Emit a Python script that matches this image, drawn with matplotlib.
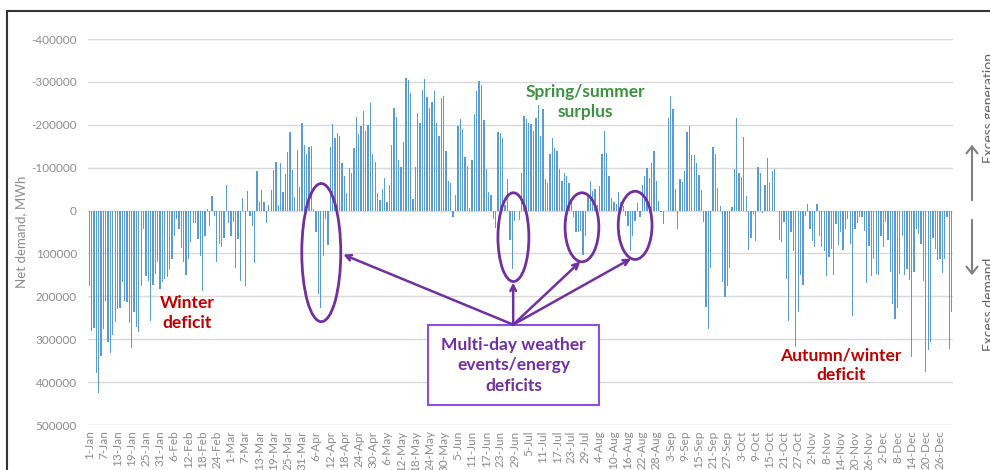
import datetime as dt
import matplotlib
matplotlib.use("Agg")
import matplotlib.pyplot as plt
from matplotlib.patches import Ellipse, Rectangle, FancyArrowPatch

plt.rcParams['font.family'] = ['Lato', 'DejaVu Sans']

# daily net demand, thousands of MWh (positive = excess demand), leap year
jan_feb = [177, 280, 274, 378, 425, 338, 276, 210, 307, 332,
           291, 259, 229, 228, 167, 210, 214, 262, 321, 237,
           272, 284, 175, 43, 152, 164, 257, 174, 148, 121,
           183, 167, 160, 156, 136, 112, 59, 20, 43, 88,
           121, 150, 113, 74, 28, 28, 67, 105, 187, 59,
           -3, 36, -34, 12, 119, 78, 86, 63, -59, 28]
mar_may = [59, 26, 133, 67, 165, -30, 177, -46, 12, 36,
           122, -93, -19, -47, -21, 28, -13, -47, -95, -113,
           -12, -112, -43, -86, -136, -183, -94, -32, -141, -55,
           -205, -152, -131, -149, -150, -3, 51, 195, 228, 105,
           20, 81, -149, -201, -170, -181, -175, -110, -81, -40,
           -99, -87, -147, -219, -178, -198, -233, -185, -199, -250,
           -131, -113]
may_jul = [-42, -24, -50, -77, -19, -59, -154, -240, -219, -119,
           -102, -160, -309, -305, -273, -28, -102, -228, -203, -282,
           -307, -264, -238, -253, -279, -203, -174, -263, -266, -140,
           -69, -64, 14, -36, -197, -214, -189, -125, -104, -7,
           -118, -226, -278, -302, -293, -211, -96, -43, -36, 20,
           40, -183, -181, -170, -12, -74, 68, 136, 24, 1,
           22, -88]
jul_sep = [-220, -214, -203, -201, -185, -216, -247, -175, -237, -73,
           -65, -133, -170, -147, -139, -96, -69, -88, -81, -64,
           -19, 16, 50, 49, 47, 104, 59, -34, -69, -46,
           -51, -12, -57, -131, -185, -135, -81, -30, -19, -16,
           -44, -19, -11, 12, 36, 94, 59, 24, -17, 16,
           -60, -81, -100, -77, -110, -139, -69, -22, 3, 32,
           1]
sep_nov = [-216, -267, -236, -51, 42, -74, -67, -92, -183, -198,
           -129, -130, -110, -82, -47, 26, 226, 276, 133, -149,
           -131, -53, -11, 166, 202, 175, 133, -9, -98, -216,
           -88, -78, -171, -34, 91, 63, 9, 72, -102, -87,
           5, -60, -123, -65, -92, -96, 2, 68, 73, 26,
           160, 257, 51, 94, 319, 236, 150, 174, 12, -15,
           43, 71]
nov_dec = [86, -15, 60, 84, 94, 153, 109, 90, 150, 32, 81,
           50, 91, 42, 19, 78, 247, 42, 28, 15, 14,
           47, 169, 82, 152, 113, 148, 150, 59, 86, 26,
           68, 143, 218, 254, 228, 148, 59, 150, 136, 161,
           342, 143, 43, 55, 78, 164, 377, 326, 307, 63,
           90, 115, 112, 146, 113, 16, 322, 236]

net_demand = [v * 1000 for v in jan_feb + mar_may + may_jul + jul_sep + sep_nov + nov_dec]
days = list(range(len(net_demand)))
start = dt.date(2020, 1, 1)
tick_days = days[::6]
tick_labels = [f"{(start + dt.timedelta(d)).day}-{(start + dt.timedelta(d)).strftime('%b')}" for d in tick_days]
y_ticks = [-400000, -300000, -200000, -100000, 0, 100000, 200000, 300000, 400000, 500000]

grey = '#8c8c8c'
purple = '#7030a0'

fig = plt.figure(figsize=(9.9, 4.7), dpi=100)
ax = fig.add_axes([88/990, 45/470, 865/990, 386/470])

ax.bar(days, net_demand, width=0.55, color='#5b9bd5', zorder=2)
ax.set_xlim(-0.5, len(days) - 0.5)
ax.set_ylim(500000, -400000)
ax.set_yticks(y_ticks)
ax.set_yticklabels([str(v) for v in y_ticks])
ax.set_xticks(tick_days)
ax.set_xticklabels(tick_labels, rotation=90)
ax.tick_params(length=0, labelsize=8.5, labelcolor=grey)
ax.tick_params(axis='y', pad=8)
ax.tick_params(axis='x', pad=4)
ax.grid(axis='y', color='#d9d9d9', lw=1, zorder=0)
for s in ax.spines.values():
    s.set_visible(False)
ax.set_ylabel('Net demand, MWh', color=grey, fontsize=9.5, labelpad=3)

# ellipses around the multi-day events
for cx, cy, w, h in [(98.2, 98000, 16.5, 322000), (179.5, 62000, 13.1, 207000),
                     (208.5, 39000, 14.3, 161000), (231.0, 34500, 14.3, 159000)]:
    ax.add_patch(Ellipse((cx, cy), w, h, fill=False, ec=purple, lw=2, zorder=4))

ax.add_patch(Rectangle((143.3, 266000), 72.6, 188000, fill=True, fc='white',
                       ec='#8a4fe0', lw=1.5, zorder=5))
ax.text(179.6, 361000, 'Multi-day weather\nevents/energy\ndeficits', ha='center', va='center',
        color=purple, fontsize=12.5, fontweight='bold', linespacing=1.35, zorder=6)
for tx, ty in [(107.5, 102600), (179.4, 168000), (207.8, 119000), (229.3, 112000)]:
    ax.annotate('', xy=(tx, ty), xytext=(179.4, 266000),
                arrowprops=dict(arrowstyle='->', color=purple, lw=1.8, shrinkA=0, shrinkB=0),
                zorder=5)

ax.text(41.5, 239000, 'Winter\ndeficit', ha='center', va='center', color='#c00000',
        fontsize=12.5, fontweight='bold', linespacing=1.3)
ax.text(209.9, -254000, 'Spring/summer\nsurplus', ha='center', va='center', color='#3f9142',
        fontsize=12.5, fontweight='bold', linespacing=1.3)
ax.text(318.2, 360000, 'Autumn/winter\ndeficit', ha='center', va='center', color='#c00000',
        fontsize=12.5, fontweight='bold', linespacing=1.3)

# side arrows and labels
for y0, y1 in [(203, 142), (217, 278)]:
    fig.add_artist(FancyArrowPatch((972/990, 1 - y0/470), (972/990, 1 - y1/470),
                   transform=fig.transFigure, arrowstyle='->,head_width=4,head_length=5',
                   color='#808080', lw=1.5))
fig.text(983/990, 1 - 163/470, 'Excess generation', rotation=90, ha='left', va='bottom',
         color='#606060', fontsize=10)
fig.text(983/990, 1 - 258/470, 'Excess demand', rotation=90, ha='left', va='top',
         color='#606060', fontsize=10)

# outer frame
fig.add_artist(Rectangle((7/990, -0.1), 1.2, 1 - 11/470 + 0.1, transform=fig.transFigure,
                         fill=False, ec='#333333', lw=1.5))

fig.savefig('out.png', dpi=100)
